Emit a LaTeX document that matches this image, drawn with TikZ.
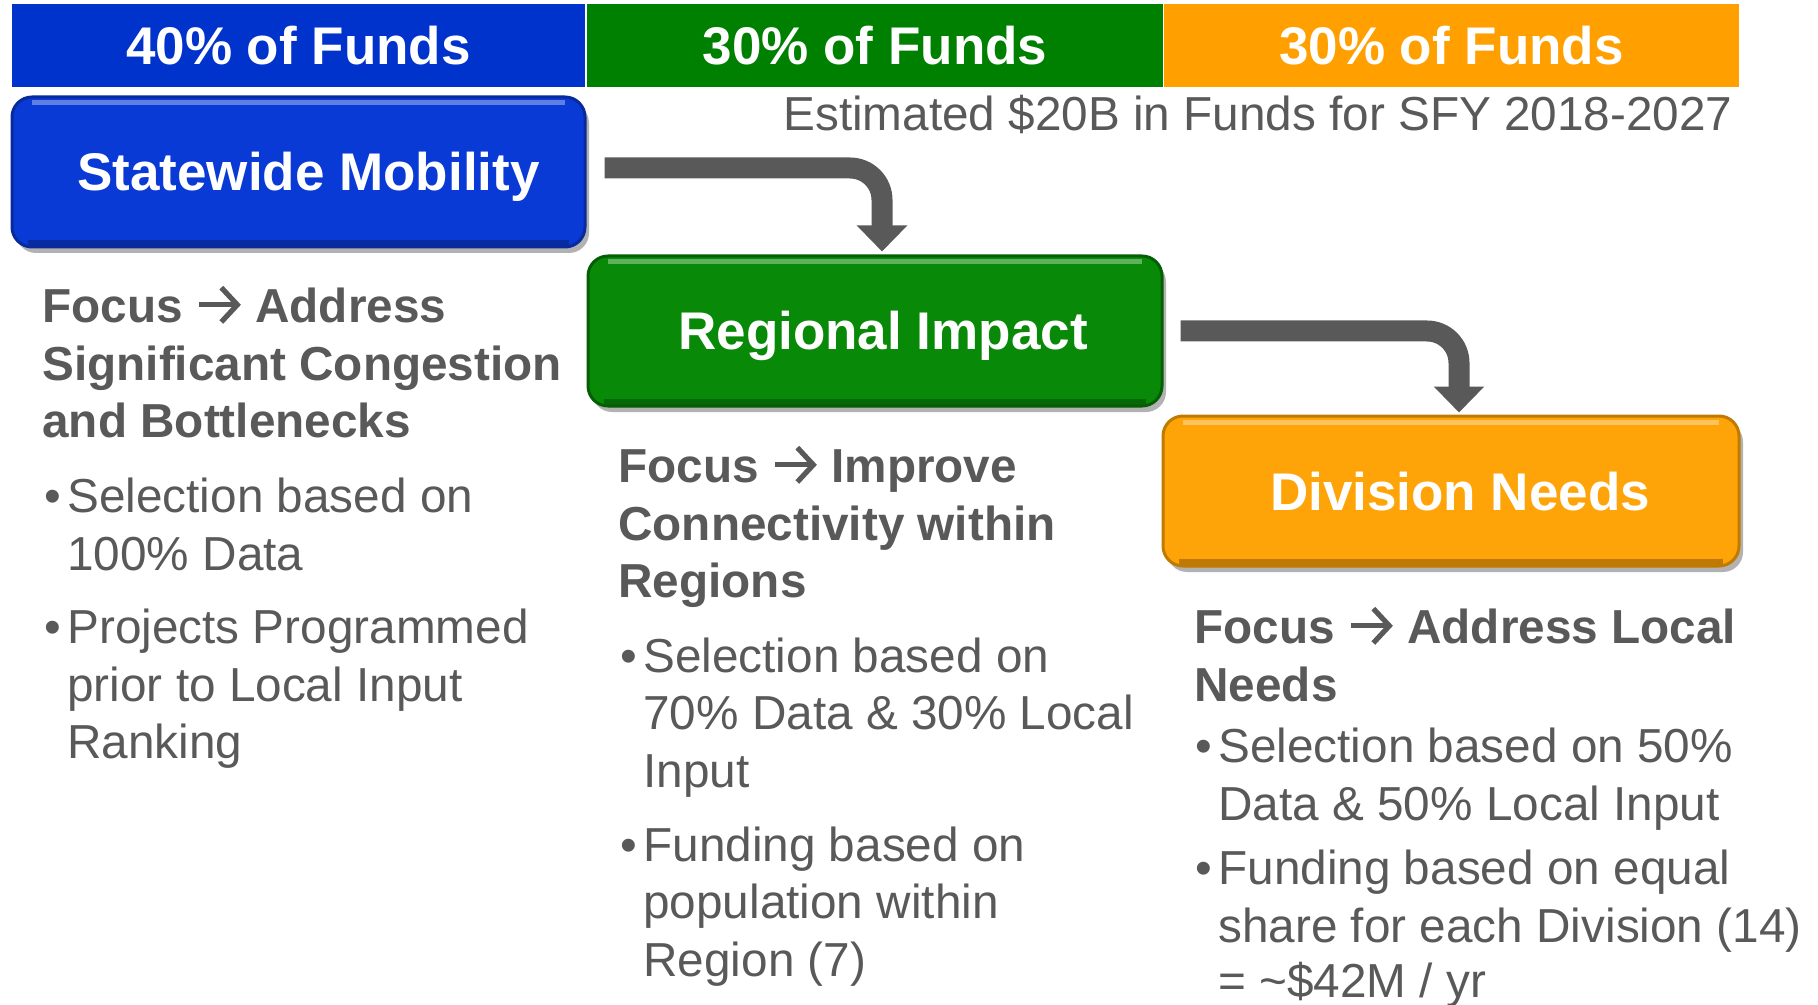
\documentclass[tikz,border=0pt]{standalone}
\usepackage{fontspec}
\setmainfont{Liberation Sans}
\usetikzlibrary{arrows.meta,shadows,calc}
\definecolor{barblue}{HTML}{0033CC}
\definecolor{bargreen}{HTML}{008000}
\definecolor{barorange}{HTML}{FFA000}
\definecolor{boxblue}{HTML}{0A3AD6}
\definecolor{boxblueedge}{HTML}{082A9C}
\definecolor{boxgreen}{HTML}{088A08}
\definecolor{boxgreenedge}{HTML}{045E04}
\definecolor{boxorange}{HTML}{FFA408}
\definecolor{boxorangeedge}{HTML}{C07A00}
\definecolor{txtgray}{HTML}{595959}
\definecolor{arrowgray}{HTML}{595959}
\newcommand{\focusarrow}{\tikz[x=1pt,y=1pt,baseline=0pt]{%
  \useasboundingbox (0,0) rectangle (23,17);
  \draw[txtgray, line width=2.6pt, line cap=butt] (1.5,8.6) -- (19.5,8.6);
  \draw[txtgray, line width=2.6pt, line join=miter, line cap=butt] (12.6,17.2) -- (20.6,8.6) -- (12.6,0);}}
\begin{document}
\begin{tikzpicture}[x=0.5pt,y=-0.5pt,
  bar/.style={inner sep=0pt, outer sep=0pt, minimum height=41.5pt, text=white,
    font=\bfseries\fontsize{26.5}{30}\selectfont},
  bigbox/.style={rounded corners=10pt, inner sep=0pt, minimum height=75pt, text=white,
    text height=19pt, text depth=0pt,
    line width=1.5pt, font=\bfseries\fontsize{26.5}{30}\selectfont,
    drop shadow={shadow xshift=2pt, shadow yshift=-3pt, opacity=0.3, fill=black},
    path picture={
      \draw[white, opacity=0.35, line width=2.5pt]
        ([xshift=10pt,yshift=-3pt]path picture bounding box.north west) --
        ([xshift=-10pt,yshift=-3pt]path picture bounding box.north east);
      \draw[black, opacity=0.25, line width=3pt]
        ([xshift=8pt,yshift=2pt]path picture bounding box.south west) --
        ([xshift=-8pt,yshift=2pt]path picture bounding box.south east);
    }},
  hd/.style={anchor=base west, inner sep=0pt, text=txtgray,
    font=\bfseries\fontsize{23.85}{29}\selectfont},
  bl/.style={anchor=base west, inner sep=0pt, text=txtgray,
    font=\fontsize{23.85}{29}\selectfont},
  conn/.style={draw=arrowgray, line width=10.5pt, rounded corners=16pt,
    -{Triangle[length=13pt,width=24.5pt]}}
]
\useasboundingbox (0,0) rectangle (1818,1005);

% top bars
\node[bar, fill=barblue, minimum width=286.5pt] (bar1) at (298.5,46) {40\% of Funds};
\node[bar, fill=bargreen, minimum width=288pt] (bar2) at (875,46) {30\% of Funds};
\node[bar, fill=barorange, minimum width=287.5pt] (bar3) at (1451.5,46) {30\% of Funds};

\node[bl, anchor=base east] (est) at (1733,131) {Estimated \$20B in Funds for SFY 2018-2027};

% boxes
\node[bigbox, fill=boxblue, draw=boxblueedge, minimum width=286.5pt] (sm) at (298.5,172)
  {\hspace*{10pt}Statewide Mobility};
\node[bigbox, fill=boxgreen, draw=boxgreenedge, minimum width=287pt] (ri) at (875,331)
  {\hspace*{8pt}Regional Impact};
\node[bigbox, fill=boxorange, draw=boxorangeedge, minimum width=288pt] (dn) at (1451,491)
  {\hspace*{9pt}Division Needs};

% connectors
\coordinate (a1s) at ($(sm.east)+(18,-4)$);
\coordinate (a1e) at ($(ri.north)+(7,-3)$);
\draw[conn] (a1s) -| (a1e);
\coordinate (a2s) at ($(ri.east)+(17,0)$);
\coordinate (a2e) at ($(dn.north)+(8,-2)$);
\draw[conn] (a2s) -| (a2e);

% column 1
\node[hd] (h1a) at (42,322) {Focus \focusarrow{} Address};
\node[hd] (h1b) at (42,380) {Significant Congestion};
\node[hd] (h1c) at (42,437) {and Bottlenecks};
\node[bl] (b1a) at (67,512) {\llap{•\hspace{3pt}}Selection based on};
\node[bl] (b1b) at (67,570) {100\% Data};
\node[bl] (b1c) at (67,643) {\llap{•\hspace{3pt}}Projects Programmed};
\node[bl] (b1d) at (67,701) {prior to Local Input};
\node[bl] (b1e) at (67,758) {Ranking};

% column 2
\node[hd] (h2a) at (618,482) {Focus \focusarrow{} Improve};
\node[hd] (h2b) at (618,540) {Connectivity within};
\node[hd] (h2c) at (618,597) {Regions};
\node[bl] (b2a) at (643,672) {\llap{•\hspace{3pt}}Selection based on};
\node[bl] (b2b) at (643,729) {70\% Data \& 30\% Local};
\node[bl] (b2c) at (643,787) {Input};
\node[bl] (b2d) at (643,861) {\llap{•\hspace{3pt}}Funding based on};
\node[bl] (b2e) at (643,918) {population within};
\node[bl] (b2f) at (643,976) {Region (7)};

% column 3
\node[hd] (h3a) at (1194,643) {Focus \focusarrow{} Address Local};
\node[hd] (h3b) at (1194,701) {Needs};
\node[bl] (b3a) at (1218,762) {\llap{•\hspace{3pt}}Selection based on 50\%};
\node[bl] (b3b) at (1218,820) {Data \& 50\% Local Input};
\node[bl] (b3c) at (1218,884) {\llap{•\hspace{3pt}}Funding based on equal};
\node[bl] (b3d) at (1218,942) {share for each Division (14)};
\node[bl] (b3e) at (1218,997) {= \textasciitilde\$42M / yr};
\end{tikzpicture}
\end{document}
